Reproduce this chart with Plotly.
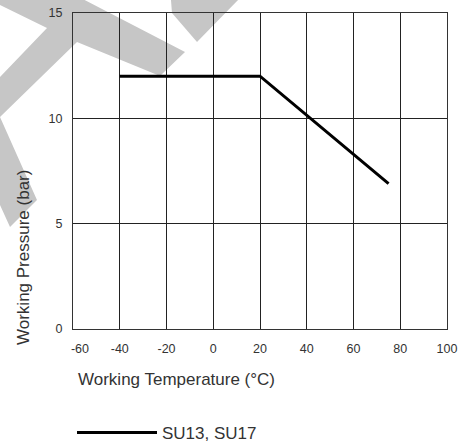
import plotly.graph_objects as go

# ---- data ----
temperature_c = [-40, 20, 75]
pressure_bar = [12, 12, 6.9]
series_name = "SU13, SU17"

x_tick_values = [-60, -40, -20, 0, 20, 40, 60, 80, 100]
x_tick_labels = ["-60", "-40", "-20", "0", "20", "40", "60", "80", "100"]
y_tick_values = [0, 5, 10, 15]
y_tick_labels = ["0", "5", "10", "15"]

x_title = "Working Temperature (°C)"
y_title = "Working Pressure (bar)"

# ---- layout constants ----
W, H = 459, 443
ML, MR, MT, MB = 73, 12, 13, 114
PW, PH = W - ML - MR, H - MT - MB
FONT = "Liberation Sans, Arial, Helvetica, sans-serif"
TXT = "#333333"


def px_path(points):
    """Convert pixel points of the decorative watermark into a paper-ref SVG path."""
    segs = []
    for i, (X, Y) in enumerate(points):
        px = (X - ML) / PW
        py = (H - MB - Y) / PH
        segs.append(("M" if i == 0 else "L") + f"{px:.4f},{py:.4f}")
    return " ".join(segs) + " Z"


# watermark (decorative background graphic)
wm_left = [(-5, -5), (75, -5), (185, 52), (160, 76), (77, 42), (0, 117),
           (37, 200), (10, 227), (0, 205), (0, 77), (47, 28), (0, 5), (-5, 5)]
wm_top = [(170, -5), (171, 0), (172, 13), (197, 42), (238, 0), (243, -5)]

# pad first label slightly so it sits right of the axis corner like the reference
x_tick_text = ["\u00a0\u00a0\u00a0\u00a0" + x_tick_labels[0]] + x_tick_labels[1:]

fig = go.Figure()
fig.add_trace(go.Scatter(
    x=temperature_c, y=pressure_bar, mode="lines", name=series_name,
    line=dict(color="black", width=3), showlegend=True,
))

shapes = []
for pts in (wm_left, wm_top):
    shapes.append(dict(type="path", xref="paper", yref="paper", path=px_path(pts),
                       fillcolor="#c6c6c6", line=dict(width=0), layer="below"))

fig.update_layout(
    width=W, height=H,
    margin=dict(l=ML, r=MR, t=MT, b=MB, pad=0, autoexpand=False),
    paper_bgcolor="white",
    plot_bgcolor="rgba(0,0,0,0)",
    font=dict(family=FONT, size=12.5, color=TXT),
    shapes=shapes,
    showlegend=True,
    legend=dict(
        x=(72 - ML) / PW, y=(H - MB - 433) / PH, xanchor="left", yanchor="middle",
        xref="paper", yref="paper", itemwidth=80,
        font=dict(family=FONT, size=17, color=TXT),
        bgcolor="rgba(0,0,0,0)", borderwidth=0,
    ),
    annotations=[
        dict(text=x_title, xref="paper", yref="paper",
             x=(76 - ML) / PW, y=(H - MB - 379) / PH, xanchor="left", yanchor="middle",
             showarrow=False, font=dict(family=FONT, size=17, color=TXT)),
        dict(text=y_title, xref="paper", yref="paper", textangle=-90,
             x=(23 - ML) / PW, y=(H - MB - 258) / PH, xanchor="center", yanchor="middle",
             showarrow=False, font=dict(family=FONT, size=17, color=TXT)),
    ],
)

fig.update_xaxes(
    range=[-60, 100], tickvals=x_tick_values, ticktext=x_tick_text,
    showgrid=True, gridcolor="#222222", gridwidth=1,
    showline=True, mirror=True, linecolor="#333333", linewidth=1,
    zeroline=False, ticks="outside", ticklen=8, tickcolor="rgba(0,0,0,0)",
    fixedrange=True,
)
fig.update_yaxes(
    range=[0, 15], tickvals=y_tick_values, ticktext=y_tick_labels,
    showgrid=True, gridcolor="#222222", gridwidth=1,
    showline=True, mirror=True, linecolor="#333333", linewidth=1,
    zeroline=False, ticks="outside", ticklen=7, tickcolor="rgba(0,0,0,0)",
    fixedrange=True,
)

fig.write_html(
    "out.html",
    config={"displayModeBar": False},
    post_script="document.body.style.margin='0';document.body.style.padding='0';"
                "document.documentElement.style.overflow='hidden';",
)
